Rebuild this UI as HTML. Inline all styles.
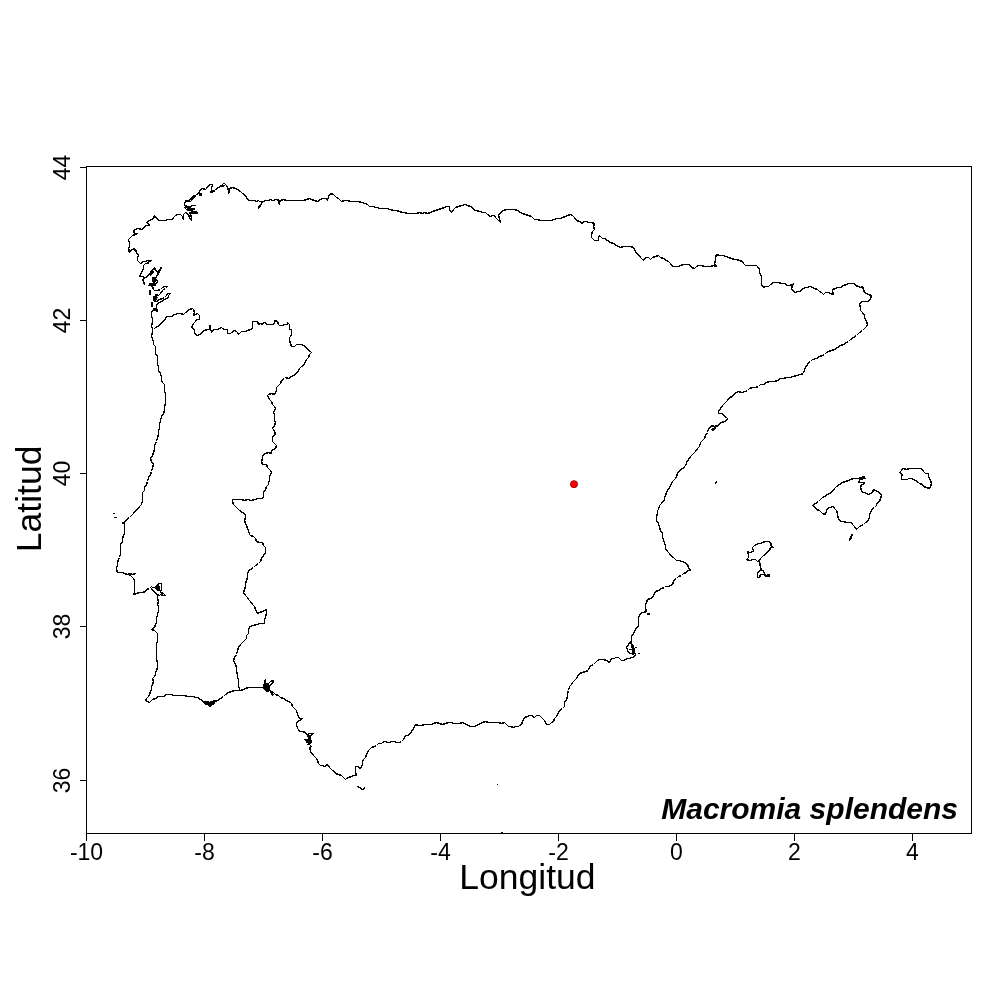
<!DOCTYPE html>
<html><head><meta charset="utf-8"><title>Macromia splendens</title>
<style>
html,body{margin:0;padding:0;background:#fff;}
svg{display:block;}
text{font-family:"Liberation Sans",Arial,sans-serif;fill:#000;}
</style></head><body>
<svg width="1000" height="1000" viewBox="0 0 1000 1000">
<rect x="0" y="0" width="1000" height="1000" fill="#fff"/>
<g fill="none" stroke="#000" stroke-width="1.4" stroke-linejoin="round" shape-rendering="crispEdges">
<path d="M152.5,329.5 L151.5,325.5 L152.5,322.5 L152.5,318.5 L151.5,316.5 L151.5,313.5 L151.5,311.5 L153.5,310.5 L155.5,310.5 L157.5,311.5 L157.5,309.5 L155.5,308.5 L156.5,307.5 L156.5,304.5 L159.5,302.5 L161.5,301.5 L164.5,299.5 L166.5,298.5 L168.5,297.5 L168.5,295.5 L170.5,293.5 L167.5,293.5 L166.5,295.5 L164.5,297.5 L162.5,298.5 L159.5,299.5 L156.5,301.5 L153.5,300.5 L153.5,297.5 L155.5,296.5 L157.5,297.5 L156.5,298.5 L155.5,294.5 L158.5,295.5 L160.5,293.5 L162.5,290.5 L163.5,289.5 L165.5,288.5 L167.5,286.5 L164.5,286.5 L162.5,287.5 L160.5,289.5 L157.5,290.5 L154.5,290.5 L153.5,289.5 L152.5,286.5 L150.5,285.5 L148.5,285.5 L149.5,284.5 L152.5,284.5 L155.5,285.5 L155.5,284.5 L157.5,281.5 L155.5,278.5 L156.5,276.5 L158.5,272.5 L159.5,270.5 L161.5,267.5 L159.5,269.5 L157.5,271.5 L155.5,270.5 L154.5,267.5 L153.5,269.5 L151.5,270.5 L150.5,272.5 L148.5,275.5 L145.5,277.5 L143.5,278.5 L142.5,280.5 L144.5,282.5 L144.5,284.5 L143.5,281.5 L143.5,278.5 L143.5,276.5 L139.5,276.5 L141.5,272.5 L142.5,270.5 L143.5,268.5 L143.5,265.5 L145.5,263.5 L148.5,263.5 L147.5,262.5 L151.5,260.5 L147.5,260.5 L145.5,261.5 L143.5,261.5 L140.5,263.5 L139.5,262.5 L137.5,260.5 L137.5,257.5 L138.5,255.5 L136.5,252.5 L136.5,250.5 L134.5,248.5 L132.5,249.5 L128.5,251.5 L128.5,248.5 L129.5,246.5 L129.5,243.5 L128.5,239.5 L130.5,237.5 L132.5,235.5 L135.5,234.5 L137.5,233.5 L135.5,233.5 L133.5,232.5 L134.5,229.5 L138.5,228.5 L141.5,229.5 L144.5,227.5 L145.5,225.5 L147.5,225.5 L149.5,225.5 L148.5,223.5 L146.5,222.5 L149.5,220.5 L151.5,219.5 L153.5,218.5 L154.5,215.5 L156.5,218.5 L159.5,220.5 L161.5,220.5 L163.5,220.5 L165.5,220.5 L167.5,219.5 L170.5,219.5 L172.5,219.5 L173.5,217.5 L175.5,215.5 L177.5,214.5 L180.5,214.5 L182.5,216.5 L183.5,219.5 L183.5,216.5 L183.5,214.5 L185.5,212.5 L188.5,214.5 L189.5,217.5 L191.5,220.5 L191.5,217.5 L190.5,214.5 L191.5,211.5 L193.5,211.5 L196.5,211.5 L193.5,211.5 L190.5,210.5 L188.5,210.5 L186.5,209.5 L184.5,207.5 L187.5,207.5 L189.5,207.5 L192.5,205.5 L195.5,205.5 L192.5,205.5 L190.5,206.5 L187.5,206.5 L184.5,205.5 L184.5,203.5 L185.5,201.5 L188.5,200.5 L190.5,199.5 L192.5,196.5 L195.5,195.5 L196.5,194.5 L198.5,193.5 L200.5,189.5 L200.5,189.5 L202.5,188.5 L205.5,189.5 L206.5,188.5 L207.5,186.5 L209.5,185.5 L209.5,184.5 L212.5,184.5 L211.5,188.5 L211.5,190.5 L210.5,192.5 L213.5,191.5 L215.5,189.5 L218.5,187.5 L221.5,185.5 L223.5,183.5 L224.5,183.5 L226.5,185.5 L227.5,187.5 L228.5,190.5 L228.5,193.5 L229.5,191.5 L229.5,188.5 L232.5,187.5 L235.5,188.5 L237.5,189.5 L240.5,191.5 L242.5,193.5 L244.5,194.5 L246.5,197.5 L248.5,200.5 L250.5,200.5 L254.5,200.5 L256.5,201.5 L258.5,200.5 L259.5,201.5 L262.5,201.5 L260.5,205.5 L258.5,208.5 L259.5,205.5 L261.5,203.5 L262.5,201.5 L266.5,200.5 L268.5,200.5 L270.5,199.5 L272.5,200.5 L276.5,199.5 L279.5,200.5 L278.5,202.5 L279.5,204.5 L279.5,202.5 L280.5,200.5 L283.5,199.5 L286.5,200.5 L289.5,200.5 L292.5,200.5 L296.5,200.5 L299.5,200.5 L303.5,200.5 L306.5,199.5 L309.5,198.5 L311.5,199.5 L314.5,200.5 L317.5,201.5 L320.5,199.5 L322.5,198.5 L326.5,198.5 L327.5,200.5 L328.5,196.5 L330.5,193.5 L333.5,194.5 L336.5,197.5 L338.5,198.5 L341.5,201.5 L344.5,200.5 L347.5,200.5 L350.5,201.5 L354.5,201.5 L358.5,201.5 L361.5,202.5 L365.5,203.5 L367.5,204.5 L369.5,206.5 L372.5,206.5 L376.5,207.5 L380.5,208.5 L383.5,208.5 L386.5,208.5 L390.5,209.5 L393.5,210.5 L396.5,210.5 L399.5,211.5 L402.5,212.5 L404.5,212.5 L407.5,213.5 L410.5,213.5 L412.5,213.5 L416.5,213.5 L419.5,212.5 L422.5,213.5 L424.5,212.5 L427.5,213.5 L430.5,212.5 L432.5,211.5 L435.5,210.5 L438.5,209.5 L441.5,208.5 L444.5,207.5 L446.5,206.5 L449.5,206.5 L449.5,209.5 L451.5,212.5 L453.5,209.5 L455.5,207.5 L458.5,206.5 L461.5,205.5 L465.5,204.5 L467.5,205.5 L470.5,206.5 L472.5,207.5 L474.5,210.5 L476.5,210.5 L479.5,211.5 L483.5,212.5 L485.5,212.5 L487.5,214.5 L490.5,216.5 L492.5,215.5 L494.5,215.5 L495.5,217.5 L497.5,219.5 L500.5,222.5 L499.5,218.5 L498.5,215.5 L500.5,212.5 L503.5,210.5 L506.5,209.5 L510.5,209.5 L514.5,209.5 L517.5,210.5 L520.5,212.5 L522.5,213.5 L525.5,214.5 L528.5,215.5 L531.5,216.5 L534.5,219.5 L537.5,219.5 L540.5,220.5 L544.5,220.5 L547.5,220.5 L551.5,220.5 L553.5,219.5 L557.5,218.5 L560.5,218.5 L562.5,217.5 L565.5,216.5 L567.5,215.5 L570.5,214.5 L572.5,215.5 L574.5,217.5 L576.5,220.5 L579.5,221.5 L582.5,223.5 L583.5,221.5 L586.5,221.5 L588.5,222.5 L591.5,222.5 L594.5,223.5 L593.5,226.5 L594.5,229.5 L592.5,231.5 L591.5,234.5 L591.5,237.5 L592.5,238.5 L594.5,240.5 L596.5,240.5 L598.5,240.5 L598.5,237.5 L599.5,235.5 L600.5,236.5 L602.5,238.5 L604.5,238.5 L607.5,240.5 L610.5,242.5 L613.5,243.5 L616.5,245.5 L620.5,247.5 L623.5,246.5 L626.5,246.5 L630.5,246.5 L633.5,247.5 L634.5,249.5 L636.5,253.5 L638.5,254.5 L640.5,257.5 L643.5,260.5 L644.5,258.5 L646.5,257.5 L648.5,257.5 L650.5,259.5 L652.5,257.5 L655.5,256.5 L658.5,255.5 L660.5,257.5 L663.5,258.5 L666.5,260.5 L668.5,261.5 L670.5,263.5 L672.5,266.5 L675.5,266.5 L678.5,266.5 L680.5,265.5 L683.5,264.5 L687.5,264.5 L689.5,264.5 L691.5,267.5 L694.5,268.5 L696.5,266.5 L698.5,265.5 L701.5,265.5 L704.5,266.5 L707.5,266.5 L710.5,266.5 L713.5,265.5 L716.5,266.5 L714.5,263.5 L715.5,260.5 L715.5,257.5 L716.5,254.5 L719.5,255.5 L722.5,255.5 L726.5,256.5 L728.5,257.5 L731.5,258.5 L734.5,259.5 L736.5,259.5 L739.5,260.5 L742.5,261.5 L743.5,263.5 L745.5,265.5 L748.5,265.5 L752.5,265.5 L756.5,265.5 L757.5,266.5 L759.5,269.5 L759.5,272.5 L761.5,276.5 L761.5,279.5 L761.5,282.5 L761.5,284.5 L763.5,287.5 L765.5,286.5 L768.5,286.5 L770.5,284.5 L773.5,282.5 L776.5,282.5 L778.5,282.5 L781.5,283.5 L784.5,283.5 L787.5,285.5 L789.5,285.5 L792.5,284.5 L793.5,283.5 L792.5,285.5 L791.5,288.5 L792.5,290.5 L795.5,292.5 L797.5,291.5 L800.5,291.5 L802.5,288.5 L806.5,287.5 L810.5,286.5 L812.5,287.5 L814.5,288.5 L817.5,289.5 L819.5,291.5 L821.5,292.5 L823.5,294.5 L825.5,292.5 L828.5,292.5 L830.5,293.5 L833.5,294.5 L832.5,291.5 L832.5,289.5 L835.5,288.5 L837.5,287.5 L840.5,287.5 L843.5,285.5 L846.5,284.5 L848.5,283.5 L851.5,283.5 L854.5,283.5 L855.5,285.5 L858.5,286.5 L860.5,287.5 L862.5,286.5 L863.5,289.5 L864.5,292.5 L866.5,293.5 L868.5,294.5 L871.5,295.5 L870.5,298.5 L868.5,301.5 L865.5,301.5 L863.5,301.5 L861.5,301.5 L859.5,304.5 L860.5,307.5 L860.5,310.5 L862.5,312.5 L864.5,315.5 L864.5,317.5 L865.5,319.5 L866.5,321.5 L867.5,324.5 L866.5,326.5 L864.5,328.5 L862.5,330.5 L859.5,332.5 L856.5,335.5 L853.5,337.5 L850.5,339.5 L848.5,341.5 L846.5,342.5 L843.5,344.5 L840.5,345.5 L837.5,347.5 L834.5,349.5 L831.5,350.5 L828.5,351.5 L826.5,352.5 L824.5,354.5 L822.5,355.5 L819.5,356.5 L816.5,358.5 L812.5,359.5 L810.5,361.5 L808.5,362.5 L807.5,364.5 L805.5,367.5 L804.5,369.5 L803.5,373.5 L800.5,374.5 L796.5,375.5 L793.5,376.5 L789.5,377.5 L786.5,377.5 L783.5,378.5 L780.5,378.5 L777.5,380.5 L774.5,381.5 L771.5,381.5 L769.5,381.5 L766.5,382.5 L763.5,384.5 L760.5,384.5 L758.5,386.5 L755.5,387.5 L752.5,387.5 L749.5,388.5 L747.5,390.5 L745.5,391.5 L741.5,392.5 L738.5,391.5 L736.5,392.5 L734.5,393.5 L732.5,396.5 L729.5,397.5 L727.5,400.5 L725.5,402.5 L722.5,405.5 L720.5,408.5 L718.5,411.5 L718.5,413.5 L722.5,413.5 L724.5,416.5 L726.5,417.5 L727.5,418.5 L726.5,420.5 L724.5,421.5 L721.5,422.5 L718.5,424.5 L717.5,426.5 L716.5,427.5 L714.5,428.5 L713.5,430.5 L711.5,429.5 L713.5,428.5 L715.5,427.5 L717.5,425.5 L714.5,426.5 L711.5,425.5 L710.5,427.5 L708.5,428.5 L707.5,432.5 L705.5,435.5 L704.5,438.5 L702.5,440.5 L700.5,442.5 L699.5,446.5 L697.5,448.5 L695.5,451.5 L693.5,453.5 L690.5,456.5 L688.5,459.5 L686.5,462.5 L685.5,466.5 L682.5,468.5 L679.5,470.5 L677.5,473.5 L676.5,476.5 L675.5,478.5 L672.5,481.5 L671.5,483.5 L669.5,487.5 L667.5,490.5 L666.5,492.5 L665.5,495.5 L664.5,497.5 L664.5,500.5 L662.5,501.5 L661.5,503.5 L659.5,505.5 L658.5,509.5 L657.5,510.5 L657.5,513.5 L656.5,516.5 L656.5,518.5 L656.5,520.5 L658.5,523.5 L659.5,527.5 L660.5,530.5 L662.5,533.5 L662.5,536.5 L663.5,540.5 L664.5,542.5 L665.5,546.5 L665.5,548.5 L667.5,551.5 L669.5,553.5 L671.5,556.5 L673.5,557.5 L676.5,560.5 L678.5,560.5 L682.5,561.5 L684.5,562.5 L687.5,564.5 L688.5,567.5 L690.5,570.5 L687.5,570.5 L686.5,572.5 L683.5,573.5 L681.5,575.5 L678.5,576.5 L676.5,578.5 L674.5,579.5 L673.5,581.5 L672.5,584.5 L670.5,585.5 L668.5,586.5 L665.5,586.5 L664.5,587.5 L661.5,588.5 L658.5,590.5 L655.5,591.5 L654.5,593.5 L653.5,595.5 L652.5,597.5 L650.5,598.5 L647.5,599.5 L646.5,602.5 L645.5,604.5 L645.5,607.5 L645.5,608.5 L646.5,611.5 L643.5,612.5 L641.5,612.5 L639.5,615.5 L638.5,617.5 L638.5,620.5 L638.5,623.5 L638.5,626.5 L636.5,627.5 L635.5,629.5 L634.5,631.5 L633.5,633.5 L631.5,636.5 L631.5,638.5 L631.5,640.5 L631.5,643.5 L633.5,646.5 L633.5,647.5 L634.5,650.5 L634.5,652.5 L635.5,654.5 L633.5,657.5 L631.5,657.5 L629.5,658.5 L627.5,658.5 L625.5,659.5 L623.5,660.5 L621.5,660.5 L618.5,657.5 L615.5,657.5 L614.5,658.5 L611.5,658.5 L610.5,660.5 L609.5,662.5 L606.5,660.5 L603.5,659.5 L599.5,659.5 L597.5,660.5 L595.5,662.5 L593.5,664.5 L591.5,665.5 L589.5,666.5 L588.5,670.5 L585.5,671.5 L582.5,672.5 L579.5,673.5 L577.5,676.5 L576.5,678.5 L574.5,680.5 L572.5,682.5 L571.5,684.5 L569.5,686.5 L568.5,690.5 L567.5,693.5 L567.5,696.5 L566.5,699.5 L564.5,702.5 L564.5,704.5 L564.5,706.5 L562.5,708.5 L560.5,709.5 L558.5,712.5 L557.5,714.5 L556.5,716.5 L554.5,718.5 L553.5,721.5 L551.5,722.5 L549.5,724.5 L546.5,724.5 L545.5,722.5 L544.5,720.5 L541.5,717.5 L539.5,715.5 L536.5,715.5 L534.5,717.5 L531.5,715.5 L529.5,715.5 L527.5,716.5 L524.5,717.5 L523.5,719.5 L522.5,721.5 L521.5,724.5 L519.5,725.5 L518.5,726.5 L515.5,726.5 L513.5,727.5 L510.5,726.5 L508.5,726.5 L506.5,724.5 L504.5,722.5 L501.5,723.5 L498.5,722.5 L494.5,722.5 L491.5,722.5 L488.5,722.5 L485.5,721.5 L482.5,722.5 L480.5,723.5 L478.5,724.5 L476.5,725.5 L474.5,726.5 L470.5,726.5 L468.5,725.5 L466.5,724.5 L464.5,723.5 L462.5,722.5 L459.5,723.5 L457.5,723.5 L453.5,723.5 L451.5,722.5 L448.5,722.5 L445.5,723.5 L442.5,724.5 L439.5,723.5 L436.5,722.5 L433.5,723.5 L431.5,724.5 L427.5,724.5 L424.5,724.5 L421.5,725.5 L418.5,725.5 L415.5,724.5 L414.5,726.5 L413.5,728.5 L411.5,731.5 L409.5,734.5 L407.5,735.5 L405.5,735.5 L404.5,737.5 L403.5,739.5 L401.5,741.5 L399.5,742.5 L396.5,742.5 L394.5,741.5 L392.5,741.5 L388.5,742.5 L384.5,741.5 L382.5,742.5 L381.5,743.5 L378.5,743.5 L376.5,745.5 L374.5,746.5 L371.5,747.5 L368.5,750.5 L367.5,752.5 L366.5,754.5 L365.5,757.5 L363.5,759.5 L362.5,761.5 L362.5,764.5 L360.5,768.5 L357.5,766.5 L355.5,766.5 L355.5,770.5 L355.5,772.5 L356.5,775.5 L353.5,775.5 L351.5,776.5 L348.5,777.5 L346.5,778.5 L345.5,779.5 L343.5,777.5 L341.5,775.5 L338.5,774.5 L335.5,773.5 L334.5,771.5 L332.5,770.5 L329.5,767.5 L327.5,764.5 L324.5,766.5 L322.5,765.5 L320.5,765.5 L318.5,763.5 L317.5,760.5 L316.5,758.5 L315.5,757.5 L313.5,755.5 L312.5,753.5 L310.5,752.5 L310.5,750.5 L309.5,747.5 L311.5,746.5 L309.5,744.5 L307.5,744.5 L310.5,743.5 L311.5,740.5 L309.5,740.5 L307.5,740.5 L304.5,739.5 L307.5,739.5 L309.5,737.5 L310.5,735.5 L313.5,733.5 L309.5,733.5 L307.5,734.5 L306.5,734.5 L305.5,732.5 L302.5,731.5 L299.5,731.5 L298.5,729.5 L297.5,728.5 L296.5,724.5 L296.5,722.5 L299.5,720.5 L302.5,718.5 L299.5,718.5 L298.5,716.5 L297.5,714.5 L296.5,710.5 L294.5,708.5 L292.5,706.5 L291.5,703.5 L290.5,702.5 L286.5,700.5 L283.5,698.5 L280.5,697.5 L278.5,695.5 L275.5,694.5 L273.5,692.5 L271.5,691.5 L269.5,690.5 L268.5,689.5 L269.5,685.5 L272.5,683.5 L273.5,680.5 L270.5,681.5 L268.5,683.5 L266.5,686.5 L265.5,682.5 L265.5,679.5 L264.5,681.5 L264.5,684.5 L263.5,687.5 L259.5,687.5 L256.5,687.5 L252.5,687.5 L248.5,687.5 L245.5,688.5 L243.5,689.5 L240.5,690.5 L237.5,690.5 L234.5,690.5 L231.5,691.5 L228.5,692.5 L225.5,694.5 L223.5,696.5 L220.5,698.5 L217.5,700.5 L215.5,702.5 L212.5,704.5 L210.5,706.5 L207.5,704.5 L204.5,703.5 L203.5,701.5 L200.5,699.5 L197.5,697.5 L195.5,697.5 L193.5,696.5 L190.5,696.5 L187.5,696.5 L184.5,695.5 L181.5,695.5 L178.5,695.5 L176.5,695.5 L173.5,695.5 L171.5,694.5 L168.5,694.5 L166.5,694.5 L163.5,696.5 L161.5,696.5 L158.5,696.5 L155.5,698.5 L152.5,699.5 L150.5,701.5 L149.5,702.5 L145.5,700.5 L146.5,698.5 L148.5,696.5 L149.5,694.5 L150.5,691.5 L151.5,689.5 L151.5,686.5 L152.5,684.5 L153.5,681.5 L152.5,678.5 L154.5,676.5 L155.5,674.5 L155.5,672.5 L156.5,670.5 L157.5,667.5 L157.5,664.5 L157.5,662.5 L156.5,659.5 L156.5,655.5 L156.5,651.5 L156.5,647.5 L156.5,644.5 L157.5,640.5 L157.5,636.5 L157.5,633.5 L154.5,630.5 L151.5,629.5 L154.5,627.5 L155.5,624.5 L156.5,622.5 L156.5,618.5 L157.5,614.5 L158.5,610.5 L158.5,606.5 L157.5,604.5 L158.5,601.5 L157.5,598.5 L157.5,595.5 L156.5,594.5 L155.5,592.5 L152.5,590.5 L151.5,588.5 L152.5,587.5 L151.5,586.5 L149.5,588.5 L146.5,589.5 L145.5,591.5 L142.5,592.5 L139.5,592.5 L136.5,593.5 L133.5,594.5 L134.5,592.5 L134.5,590.5 L134.5,586.5 L134.5,583.5 L134.5,580.5 L133.5,578.5 L130.5,575.5 L128.5,574.5 L131.5,574.5 L135.5,573.5 L132.5,574.5 L129.5,573.5 L127.5,574.5 L124.5,573.5 L122.5,572.5 L119.5,572.5 L117.5,572.5 L116.5,569.5 L116.5,567.5 L117.5,565.5 L117.5,562.5 L118.5,559.5 L119.5,557.5 L120.5,553.5 L120.5,550.5 L120.5,547.5 L120.5,544.5 L122.5,541.5 L122.5,538.5 L123.5,535.5 L124.5,533.5 L124.5,530.5 L124.5,527.5 L124.5,524.5 L122.5,522.5 L124.5,522.5 L126.5,519.5 L129.5,517.5 L131.5,515.5 L133.5,513.5 L135.5,510.5 L138.5,508.5 L139.5,506.5 L141.5,504.5 L142.5,500.5 L142.5,496.5 L142.5,492.5 L144.5,490.5 L144.5,487.5 L146.5,484.5 L147.5,481.5 L148.5,477.5 L150.5,474.5 L151.5,471.5 L152.5,467.5 L153.5,464.5 L151.5,461.5 L150.5,458.5 L152.5,455.5 L153.5,452.5 L154.5,449.5 L154.5,445.5 L156.5,441.5 L157.5,437.5 L158.5,434.5 L158.5,431.5 L159.5,427.5 L159.5,424.5 L160.5,420.5 L161.5,416.5 L163.5,413.5 L164.5,410.5 L164.5,406.5 L165.5,403.5 L165.5,400.5 L165.5,397.5 L165.5,394.5 L164.5,390.5 L164.5,387.5 L164.5,384.5 L162.5,382.5 L161.5,380.5 L161.5,377.5 L160.5,373.5 L158.5,370.5 L158.5,367.5 L157.5,363.5 L157.5,359.5 L157.5,356.5 L155.5,353.5 L155.5,349.5 L155.5,346.5 L153.5,344.5 L153.5,341.5 L152.5,339.5 L151.5,335.5 L152.5,332.5 L152.5,329.5 Z M153.5,329.5 L155.5,327.5 L157.5,326.5 L160.5,324.5 L161.5,322.5 L164.5,320.5 L165.5,318.5 L166.5,316.5 L169.5,316.5 L172.5,316.5 L173.5,314.5 L175.5,314.5 L177.5,313.5 L180.5,313.5 L183.5,314.5 L185.5,312.5 L189.5,309.5 L192.5,308.5 L193.5,309.5 L194.5,312.5 L193.5,315.5 L197.5,313.5 L199.5,315.5 L199.5,319.5 L196.5,319.5 L195.5,321.5 L193.5,323.5 L192.5,325.5 L191.5,327.5 L194.5,329.5 L194.5,332.5 L195.5,334.5 L197.5,335.5 L199.5,334.5 L201.5,333.5 L202.5,331.5 L204.5,330.5 L207.5,329.5 L209.5,329.5 L209.5,325.5 L210.5,325.5 L210.5,328.5 L211.5,332.5 L213.5,329.5 L217.5,329.5 L219.5,328.5 L221.5,327.5 L222.5,328.5 L224.5,329.5 L227.5,329.5 L227.5,333.5 L230.5,333.5 L231.5,332.5 L234.5,330.5 L236.5,331.5 L237.5,332.5 L238.5,334.5 L240.5,332.5 L241.5,331.5 L245.5,331.5 L247.5,330.5 L250.5,329.5 L252.5,328.5 L252.5,324.5 L252.5,321.5 L255.5,321.5 L257.5,321.5 L258.5,324.5 L260.5,323.5 L262.5,324.5 L263.5,322.5 L265.5,322.5 L266.5,324.5 L269.5,324.5 L273.5,324.5 L274.5,322.5 L274.5,320.5 L277.5,321.5 L278.5,324.5 L279.5,325.5 L283.5,325.5 L283.5,324.5 L287.5,324.5 L287.5,322.5 L289.5,324.5 L289.5,326.5 L289.5,329.5 L291.5,329.5 L291.5,331.5 L291.5,334.5 L290.5,336.5 L289.5,337.5 L289.5,340.5 L290.5,343.5 L291.5,346.5 L294.5,346.5 L296.5,344.5 L299.5,344.5 L301.5,344.5 L303.5,345.5 L305.5,346.5 L307.5,349.5 L310.5,351.5 L311.5,352.5 L309.5,354.5 L308.5,357.5 L306.5,359.5 L305.5,361.5 L304.5,363.5 L303.5,365.5 L301.5,366.5 L299.5,368.5 L298.5,370.5 L296.5,373.5 L293.5,375.5 L291.5,376.5 L288.5,378.5 L285.5,377.5 L284.5,378.5 L281.5,380.5 L280.5,383.5 L278.5,385.5 L276.5,387.5 L276.5,390.5 L275.5,392.5 L274.5,394.5 L271.5,393.5 L268.5,394.5 L267.5,395.5 L268.5,397.5 L269.5,399.5 L271.5,401.5 L272.5,404.5 L274.5,406.5 L275.5,408.5 L274.5,410.5 L273.5,412.5 L274.5,414.5 L274.5,417.5 L274.5,420.5 L275.5,422.5 L274.5,425.5 L272.5,428.5 L273.5,429.5 L274.5,431.5 L275.5,434.5 L273.5,435.5 L272.5,437.5 L272.5,441.5 L274.5,443.5 L276.5,445.5 L275.5,448.5 L273.5,449.5 L271.5,450.5 L271.5,453.5 L268.5,452.5 L265.5,453.5 L262.5,455.5 L262.5,458.5 L261.5,461.5 L262.5,464.5 L264.5,464.5 L266.5,464.5 L267.5,467.5 L270.5,470.5 L271.5,472.5 L269.5,476.5 L269.5,480.5 L268.5,482.5 L268.5,484.5 L266.5,486.5 L265.5,489.5 L263.5,492.5 L263.5,496.5 L262.5,498.5 L258.5,498.5 L254.5,499.5 L251.5,500.5 L247.5,499.5 L244.5,500.5 L241.5,499.5 L237.5,499.5 L235.5,499.5 L232.5,499.5 L232.5,501.5 L233.5,504.5 L235.5,506.5 L237.5,508.5 L239.5,510.5 L242.5,512.5 L245.5,514.5 L245.5,517.5 L244.5,520.5 L245.5,523.5 L246.5,525.5 L247.5,528.5 L248.5,530.5 L249.5,534.5 L250.5,535.5 L253.5,536.5 L255.5,538.5 L256.5,541.5 L259.5,542.5 L262.5,542.5 L263.5,545.5 L265.5,547.5 L265.5,549.5 L265.5,552.5 L263.5,555.5 L261.5,558.5 L260.5,561.5 L258.5,563.5 L255.5,565.5 L253.5,567.5 L250.5,569.5 L248.5,570.5 L247.5,574.5 L247.5,577.5 L246.5,580.5 L245.5,583.5 L245.5,586.5 L244.5,589.5 L243.5,592.5 L245.5,595.5 L247.5,597.5 L248.5,599.5 L250.5,601.5 L252.5,604.5 L254.5,606.5 L255.5,609.5 L257.5,613.5 L259.5,612.5 L262.5,611.5 L264.5,610.5 L266.5,609.5 L266.5,613.5 L265.5,616.5 L264.5,620.5 L264.5,623.5 L260.5,623.5 L256.5,624.5 L253.5,625.5 L249.5,626.5 L248.5,630.5 L248.5,633.5 L246.5,635.5 L246.5,638.5 L243.5,641.5 L240.5,644.5 L238.5,647.5 L237.5,650.5 L236.5,654.5 L234.5,657.5 L233.5,660.5 L235.5,664.5 L236.5,667.5 L236.5,671.5 L237.5,674.5 L237.5,677.5 L238.5,679.5 L238.5,682.5 L238.5,685.5 L239.5,689.5 L240.5,690.5 M812.5,505.5 L815.5,503.5 L818.5,501.5 L820.5,499.5 L822.5,497.5 L824.5,496.5 L827.5,494.5 L829.5,493.5 L832.5,491.5 L834.5,488.5 L836.5,486.5 L839.5,484.5 L842.5,482.5 L845.5,481.5 L848.5,480.5 L850.5,479.5 L853.5,478.5 L855.5,478.5 L858.5,478.5 L861.5,477.5 L864.5,476.5 L861.5,478.5 L859.5,480.5 L858.5,482.5 L861.5,482.5 L864.5,482.5 L863.5,484.5 L861.5,484.5 L860.5,487.5 L861.5,490.5 L862.5,492.5 L864.5,492.5 L868.5,494.5 L870.5,493.5 L872.5,492.5 L873.5,489.5 L875.5,490.5 L877.5,491.5 L880.5,493.5 L881.5,495.5 L880.5,498.5 L879.5,501.5 L876.5,503.5 L876.5,505.5 L874.5,507.5 L872.5,508.5 L871.5,510.5 L870.5,512.5 L869.5,514.5 L869.5,517.5 L868.5,519.5 L867.5,521.5 L865.5,522.5 L863.5,524.5 L861.5,525.5 L859.5,526.5 L856.5,529.5 L854.5,526.5 L852.5,524.5 L851.5,522.5 L849.5,522.5 L846.5,522.5 L843.5,521.5 L840.5,521.5 L838.5,518.5 L837.5,515.5 L837.5,513.5 L836.5,510.5 L834.5,508.5 L833.5,506.5 L829.5,507.5 L827.5,508.5 L826.5,510.5 L825.5,514.5 L822.5,513.5 L819.5,510.5 L816.5,509.5 L814.5,506.5 L812.5,505.5 Z M901.5,469.5 L903.5,468.5 L906.5,469.5 L909.5,468.5 L912.5,468.5 L914.5,468.5 L918.5,468.5 L921.5,468.5 L923.5,471.5 L925.5,473.5 L928.5,473.5 L928.5,476.5 L930.5,480.5 L931.5,483.5 L930.5,486.5 L929.5,488.5 L926.5,487.5 L923.5,486.5 L922.5,484.5 L919.5,483.5 L918.5,482.5 L915.5,480.5 L911.5,478.5 L908.5,478.5 L907.5,479.5 L904.5,479.5 L901.5,479.5 L901.5,476.5 L902.5,474.5 L899.5,472.5 L901.5,470.5 L901.5,469.5 Z M753.5,551.5 L752.5,547.5 L754.5,545.5 L758.5,543.5 L760.5,543.5 L762.5,542.5 L765.5,541.5 L768.5,541.5 L771.5,543.5 L770.5,545.5 L773.5,547.5 L770.5,547.5 L769.5,550.5 L766.5,552.5 L765.5,554.5 L763.5,555.5 L762.5,556.5 L760.5,558.5 L759.5,560.5 L757.5,561.5 L755.5,559.5 L753.5,559.5 L749.5,560.5 L746.5,559.5 L748.5,557.5 L748.5,554.5 L747.5,551.5 L749.5,552.5 L753.5,551.5 Z M759.5,561.5 L760.5,567.5 L761.5,570.5 M758.5,571.5 L760.5,570.5 L763.5,570.5 L764.5,574.5 L766.5,575.5 L769.5,574.5 L769.5,576.5 L766.5,576.5 L763.5,574.5 L760.5,574.5 L759.5,577.5 L757.5,577.5 L757.5,573.5 L758.5,571.5 Z M852.5,534.5 L850.5,537.5 L849.5,540.5 L850.5,539.5 L851.5,537.5 M630.5,641.5 L626.5,647.5 L628.5,652.5 L633.5,654.5 L632.5,648.5 L630.5,641.5 Z M149.5,289.5 L149.5,294.5 M716.5,481.5 L715.5,483.5 L716.5,484.5 M357.5,786.5 L359.5,787.5 L362.5,789.5 L365.5,787.5 M113.5,517.5 L116.5,517.5 M112.5,513.5 L114.5,513.5 M634.5,647.5 L636.5,647.5 M637.5,653.5 L639.5,653.5 M628.5,649.5 L633.5,649.5 M156.5,594.5 L159.5,595.5 L160.5,594.5 L163.5,595.5 L165.5,595.5 L163.5,593.5 L160.5,592.5 L161.5,588.5 L161.5,583.5 L159.5,583.5 L157.5,584.5 L156.5,587.5 L152.5,587.5"/>
<path stroke-width="2" d="M210.5,190.5 L214.5,190.5 M221.5,185.5 L224.5,186.5 M186.5,208.5 L194.5,208.5 M188.5,212.5 L197.5,212.5 M185.5,201.5 L190.5,200.5 M190.5,200.5 L195.5,195.5 M859.5,479.5 L865.5,477.5 M852.5,534.5 L849.5,539.5 M270.5,691.5 L273.5,695.5 M161.5,267.5 L157.5,274.5 M149.5,275.5 L153.5,271.5 M128.5,249.5 L130.5,252.5 M133.5,248.5 L136.5,251.5 M149.5,284.5 L155.5,284.5 M152.5,280.5 L155.5,280.5 M152.5,277.5 L154.5,283.5 M149.5,289.5 L149.5,294.5 M151.5,301.5 L151.5,306.5 M153.5,308.5 L157.5,310.5 M153.5,296.5 L156.5,300.5"/>
<rect x="647" y="613.2" width="3" height="1.6" fill="#000" stroke="none"/><rect x="121.5" y="521.5" width="3" height="2" fill="#000" stroke="none"/><rect x="199" y="193" width="2.6" height="2.6" fill="#000" stroke="none"/><rect x="307" y="734.5" width="4" height="2" fill="#000" stroke="none"/><rect x="307.5" y="736" width="3" height="6" fill="#000" stroke="none"/><rect x="306" y="740" width="6" height="2.5" fill="#000" stroke="none"/><rect x="152" y="276.5" width="4" height="5.5" fill="#000" stroke="none"/><rect x="148.5" y="283.3" width="7" height="2.2" fill="#000" stroke="none"/>
<path d="M203.5,701.5 L206.5,701.5 L209.5,702.5 L211.5,701.5 L216.5,700.5 L212.5,704.5 L210.5,706.5 L207.5,704.5 Z" fill="#000"/><path d="M155.5,586.5 L157.5,584.5 L159.5,586.5 L159.5,590.5 L157.5,590.5 L155.5,588.5 Z" fill="#000"/><path d="M263.5,684.5 L267.5,683.5 L269.5,685.5 L269.5,690.5 L266.5,691.5 L263.5,688.5 Z" fill="#000"/>
<rect x="497" y="784" width="1" height="1" fill="#000" stroke="none"/>
<path d="M501,832.5 H503"/>
</g>
<circle cx="574" cy="484.2" r="3.5" fill="#f00" stroke="#a00000" stroke-width="1"/>
<g fill="none" stroke="#000" stroke-width="1" shape-rendering="crispEdges">
<rect x="86.5" y="166.5" width="885" height="667"/>
<path d="M86.5,833.5 V840.5 M204.5,833.5 V840.5 M322.5,833.5 V840.5 M440.5,833.5 V840.5 M558.5,833.5 V840.5 M676.5,833.5 V840.5 M794.5,833.5 V840.5 M912.5,833.5 V840.5 M79.5,780.5 H86.5 M79.5,626.5 H86.5 M79.5,473.5 H86.5 M79.5,320.5 H86.5 M79.5,167.5 H86.5"/>
</g>
<g font-size="23">
<text x="86.5" y="859.6" text-anchor="middle">-10</text><text x="204.5" y="859.6" text-anchor="middle">-8</text><text x="322.5" y="859.6" text-anchor="middle">-6</text><text x="440.5" y="859.6" text-anchor="middle">-4</text><text x="558.5" y="859.6" text-anchor="middle">-2</text><text x="676.5" y="859.6" text-anchor="middle">0</text><text x="794.5" y="859.6" text-anchor="middle">2</text><text x="912.5" y="859.6" text-anchor="middle">4</text><text transform="translate(70,780.5) rotate(-90)" text-anchor="middle">36</text><text transform="translate(70,626.5) rotate(-90)" text-anchor="middle">38</text><text transform="translate(70,473.5) rotate(-90)" text-anchor="middle">40</text><text transform="translate(70,320.5) rotate(-90)" text-anchor="middle">42</text><text transform="translate(70,167.5) rotate(-90)" text-anchor="middle">44</text>
</g>
<text x="527.4" y="889" font-size="35.5" text-anchor="middle">Longitud</text>
<text transform="translate(41,498.9) rotate(-90)" font-size="35.5" text-anchor="middle">Latitud</text>
<text x="958" y="818.7" font-size="30" font-weight="bold" font-style="italic" text-anchor="end">Macromia splendens</text>
</svg>
</body></html>
